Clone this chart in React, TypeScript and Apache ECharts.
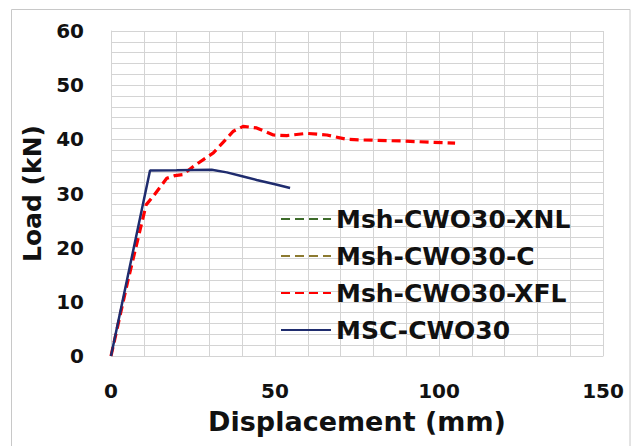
import React, { useEffect, useRef } from "react";
import * as echarts from "echarts";

// Load–displacement curves (displacement mm, load kN)
const mscDisp = [0, 11.9, 20, 30.7, 35.3, 40, 44.4, 50, 54.6];
const mscLoad = [0, 34.25, 34.3, 34.4, 33.9, 33.2, 32.5, 31.7, 31.0];

const xflDisp = [0, 5, 10.7, 12.9, 17, 19.5, 22, 25.1, 31.2, 37.3, 40.3, 44.4, 46.4, 49.5, 53.6, 59.7, 65.8, 71.9, 75.9, 88.1, 104.9];
const xflLoad = [0, 13.5, 27.9, 29.5, 32.8, 33.3, 33.5, 35.0, 37.5, 41.5, 42.4, 42.1, 41.6, 40.8, 40.7, 41.1, 40.8, 40.0, 39.9, 39.7, 39.3];

const xnlDisp: number[] = [];
const xnlLoad: number[] = [];
const cDisp: number[] = [];
const cLoad: number[] = [];

const seriesNames = ["Msh-CWO30-XNL", "Msh-CWO30-C", "Msh-CWO30-XFL", "MSC-CWO30"];
const seriesColors = ["#3d6b2a", "#8c7a30", "#ff0000", "#1f2c6e"];

const FONT = "'DejaVu Sans', sans-serif";
const INK = "#111111";
const GRID = "#d4d4d4";

const pairs = (xs: number[], ys: number[]) => xs.map((x, i) => [x, ys[i]]);

export default function App() {
  const ref = useRef<HTMLDivElement>(null);

  useEffect(() => {
    if (!ref.current) return;
    const chart = echarts.init(ref.current, undefined, { renderer: "svg" });
    const dataSets = [
      pairs(xnlDisp, xnlLoad),
      pairs(cDisp, cLoad),
      pairs(xflDisp, xflLoad),
      pairs(mscDisp, mscLoad),
    ];
    chart.setOption({
      animation: false,
      backgroundColor: "#ffffff",
      textStyle: { fontFamily: FONT },
      graphic: [
        {
          type: "rect",
          shape: { x: 11.5, y: 9.5, width: 618.5, height: 460 },
          style: { fill: "none", stroke: "#c8c8c8", lineWidth: 1 },
          silent: true,
        },
      ],
      grid: { left: 111, right: 39, top: 31, bottom: 90 },
      xAxis: {
        type: "value",
        min: 0,
        max: 150,
        interval: 50,
        name: "Displacement (mm)",
        nameLocation: "middle",
        nameGap: 52,
        nameTextStyle: { fontSize: 27, fontWeight: "bold", color: INK, fontFamily: FONT },
        axisLine: { show: true, lineStyle: { color: GRID, width: 1 } },
        axisTick: { show: false },
        axisLabel: { fontSize: 20, fontWeight: "bold", color: INK, margin: 25, fontFamily: FONT },
        splitLine: { show: true, lineStyle: { color: GRID, width: 1 } },
        minorTick: { show: false, splitNumber: 5 },
        minorSplitLine: { show: true, lineStyle: { color: GRID, width: 1 } },
      },
      yAxis: {
        type: "value",
        min: 0,
        max: 60,
        interval: 10,
        name: "Load (kN)",
        nameLocation: "middle",
        nameRotate: 90,
        nameGap: 57,
        nameTextStyle: { fontSize: 25, fontWeight: "bold", color: INK, fontFamily: FONT },
        axisLine: { show: true, lineStyle: { color: GRID, width: 1 } },
        axisTick: { show: false },
        axisLabel: { fontSize: 20, fontWeight: "bold", color: INK, margin: 27, fontFamily: FONT },
        splitLine: { show: true, lineStyle: { color: GRID, width: 1 } },
        minorTick: { show: false, splitNumber: 5 },
        minorSplitLine: { show: true, lineStyle: { color: GRID, width: 1 } },
      },
      legend: {
        data: seriesNames,
        orient: "vertical",
        left: 275,
        top: 199,
        itemWidth: 50,
        itemHeight: 14,
        itemGap: 7,
        itemStyle: { opacity: 0 },
        textStyle: { fontSize: 25, fontWeight: "bold", color: INK, lineHeight: 30, fontFamily: FONT },
      },
      series: seriesNames.map((name, i) => ({
        name,
        type: "line",
        data: dataSets[i],
        symbol: "none",
        showSymbol: false,
        smooth: false,
        z: i === 3 ? 3 : 2,
        color: seriesColors[i],
        lineStyle: {
          color: seriesColors[i],
          width: i === 3 ? 2.5 : 3.2,
          type: i === 3 ? "solid" : [9, 5],
        },
      })),
    });
    return () => chart.dispose();
  }, []);

  return (
    <div
      ref={ref}
      style={{ position: "fixed", left: 0, top: 0, width: 642, height: 446 }}
    />
  );
}
